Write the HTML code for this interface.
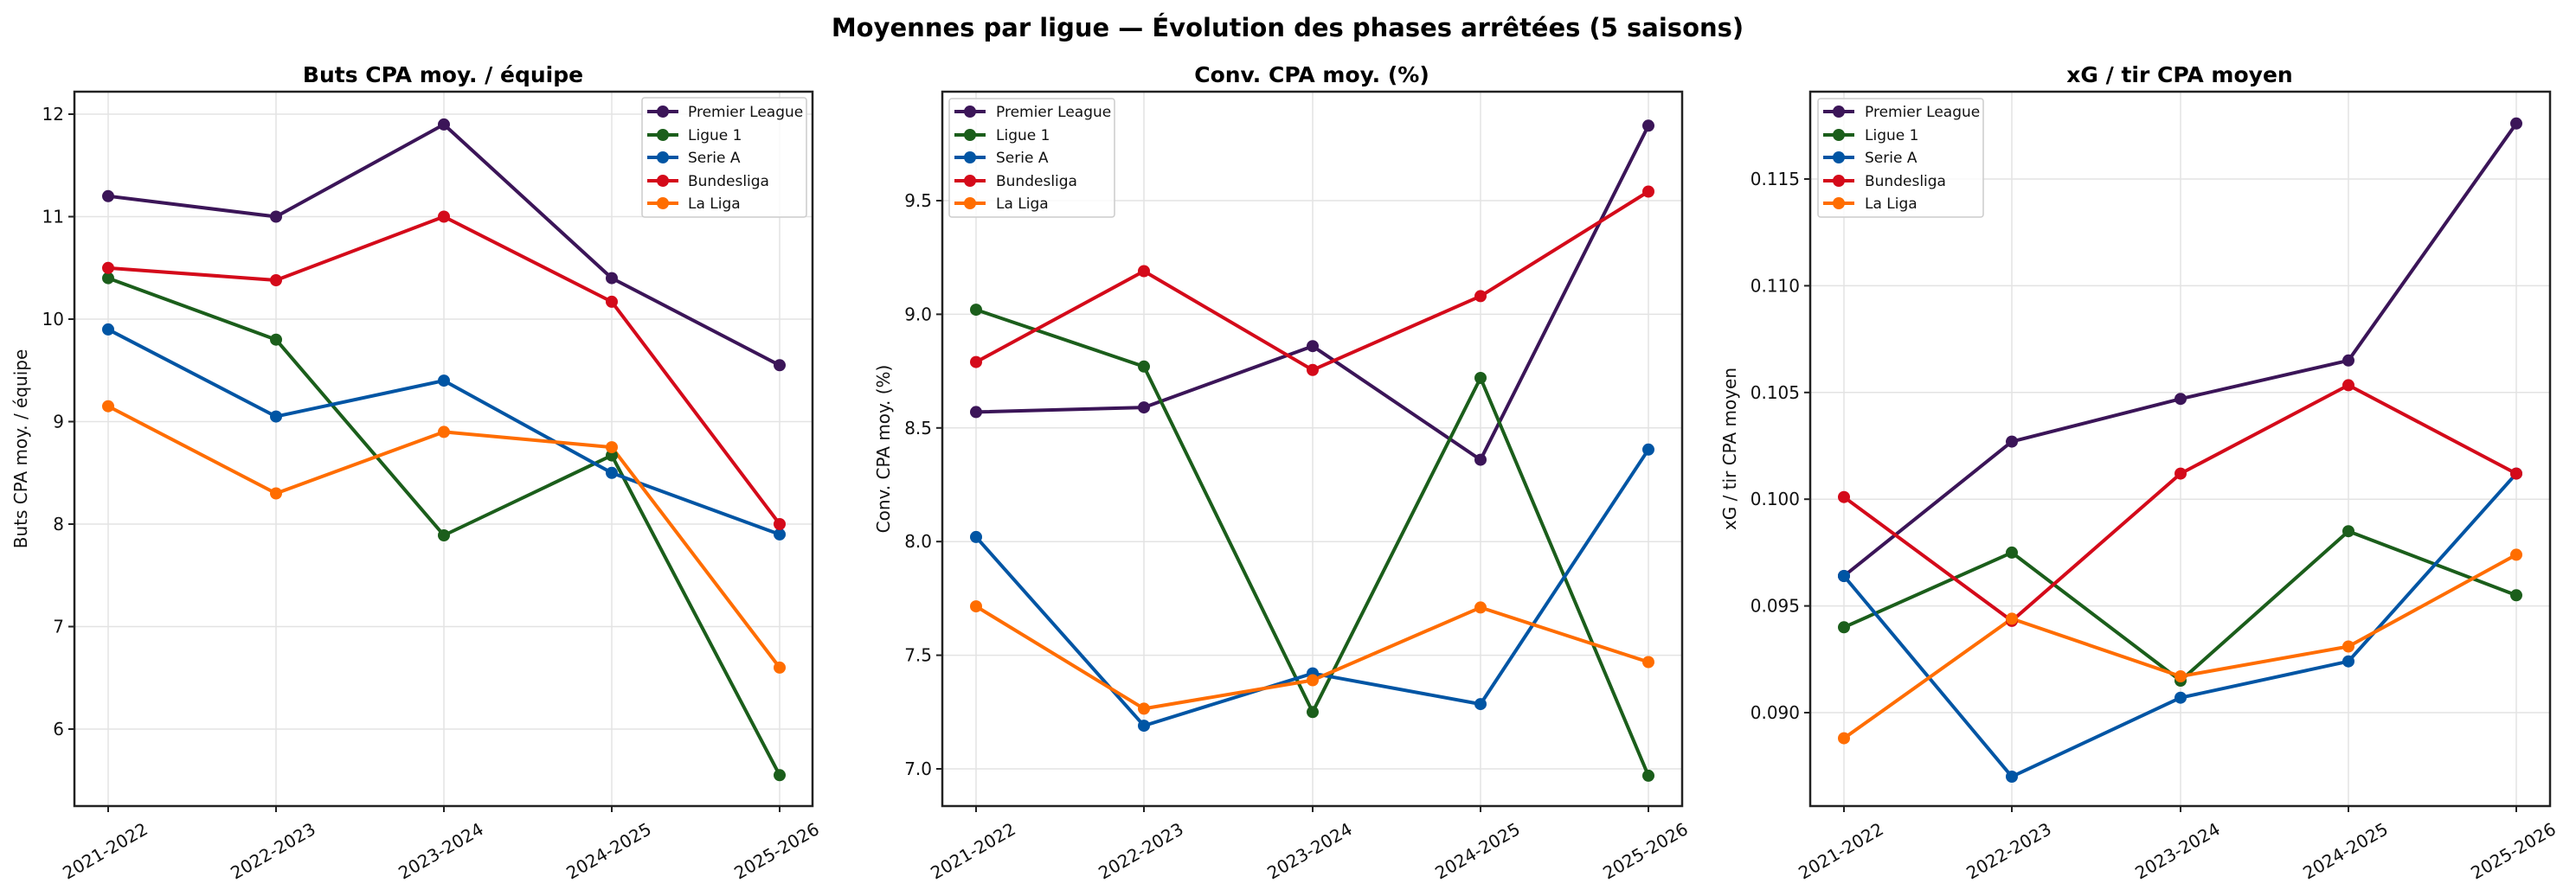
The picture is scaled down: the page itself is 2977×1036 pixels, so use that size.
<!DOCTYPE html>
<html><head><meta charset="utf-8"><style>
html,body{margin:0;padding:0;background:#fff}
svg{display:block;font-family:"DejaVu Sans","Liberation Sans",sans-serif}
.g{stroke:#e3e3e3;stroke-width:1.5}
.ax{fill:none;stroke:#222;stroke-width:2.5}
.tk{stroke:#222;stroke-width:2}
.t{font-size:20px;fill:#111}
.lg{font-size:17px;fill:#111}
.ttl{font-size:25px;font-weight:bold;fill:#000}
.pl{fill:none;stroke-width:4;stroke-linejoin:round}
</style></head><body>
<svg width="2977" height="1036" viewBox="0 0 2977 1036">
<rect width="2977" height="1036" fill="#fff"/>
<text x="1488" y="42" text-anchor="middle" style="font-size:29px;font-weight:bold">Moyennes par ligue — Évolution des phases arrêtées (5 saisons)</text>

<!-- Panel 1 -->
<g>
<text class="ttl" x="512" y="95" text-anchor="middle">Buts CPA moy. / équipe</text>
<g class="g">
<line x1="125" y1="106" x2="125" y2="932"/><line x1="319" y1="106" x2="319" y2="932"/><line x1="513" y1="106" x2="513" y2="932"/><line x1="707" y1="106" x2="707" y2="932"/><line x1="901" y1="106" x2="901" y2="932"/>
<line x1="86" y1="132" x2="939" y2="132"/><line x1="86" y1="250.5" x2="939" y2="250.5"/><line x1="86" y1="369" x2="939" y2="369"/><line x1="86" y1="487.5" x2="939" y2="487.5"/><line x1="86" y1="606" x2="939" y2="606"/><line x1="86" y1="724.5" x2="939" y2="724.5"/><line x1="86" y1="843" x2="939" y2="843"/>
</g>
<g class="t" text-anchor="end">
<text x="74" y="139">12</text><text x="74" y="257.5">11</text><text x="74" y="376">10</text><text x="74" y="494.5">9</text><text x="74" y="613">8</text><text x="74" y="731.5">7</text><text x="74" y="850">6</text>
</g>
<g class="tk"><line x1="79" y1="132" x2="86" y2="132"/><line x1="79" y1="250.5" x2="86" y2="250.5"/><line x1="79" y1="369" x2="86" y2="369"/><line x1="79" y1="487.5" x2="86" y2="487.5"/><line x1="79" y1="606" x2="86" y2="606"/><line x1="79" y1="724.5" x2="86" y2="724.5"/><line x1="79" y1="843" x2="86" y2="843"/>
<line x1="125" y1="932" x2="125" y2="939"/><line x1="319" y1="932" x2="319" y2="939"/><line x1="513" y1="932" x2="513" y2="939"/><line x1="707" y1="932" x2="707" y2="939"/><line x1="901" y1="932" x2="901" y2="939"/></g>
<g class="t" text-anchor="middle">
<text transform="translate(125,990) rotate(-30)">2021-2022</text><text transform="translate(319,990) rotate(-30)">2022-2023</text><text transform="translate(513,990) rotate(-30)">2023-2024</text><text transform="translate(707,990) rotate(-30)">2024-2025</text><text transform="translate(901,990) rotate(-30)">2025-2026</text>
</g>
<text class="t" transform="translate(31,519) rotate(-90)" text-anchor="middle">Buts CPA moy. / équipe</text>
<polyline class="pl" stroke="#3b1558" points="125,226.8 319,250.5 513,143.9 707,321.6 901,422.3"/>
<polyline class="pl" stroke="#1b5e1b" points="125,321.6 319,392.7 513,619 707,526.6 901,896.3"/>
<polyline class="pl" stroke="#0055a4" points="125,380.9 319,481.6 513,440.1 707,546.8 901,617.9"/>
<polyline class="pl" stroke="#d40a1a" points="125,309.8 319,324 513,250.5 707,348.9 901,606"/>
<polyline class="pl" stroke="#ff6d00" points="125,469.7 319,570.5 513,499.4 707,517.1 901,771.9"/>
<g fill="#3b1558"><circle cx="125" cy="226.8" r="7"/><circle cx="319" cy="250.5" r="7"/><circle cx="513" cy="143.9" r="7"/><circle cx="707" cy="321.6" r="7"/><circle cx="901" cy="422.3" r="7"/></g>
<g fill="#1b5e1b"><circle cx="125" cy="321.6" r="7"/><circle cx="319" cy="392.7" r="7"/><circle cx="513" cy="619" r="7"/><circle cx="707" cy="526.6" r="7"/><circle cx="901" cy="896.3" r="7"/></g>
<g fill="#0055a4"><circle cx="125" cy="380.9" r="7"/><circle cx="319" cy="481.6" r="7"/><circle cx="513" cy="440.1" r="7"/><circle cx="707" cy="546.8" r="7"/><circle cx="901" cy="617.9" r="7"/></g>
<g fill="#d40a1a"><circle cx="125" cy="309.8" r="7"/><circle cx="319" cy="324" r="7"/><circle cx="513" cy="250.5" r="7"/><circle cx="707" cy="348.9" r="7"/><circle cx="901" cy="606" r="7"/></g>
<g fill="#ff6d00"><circle cx="125" cy="469.7" r="7"/><circle cx="319" cy="570.5" r="7"/><circle cx="513" cy="499.4" r="7"/><circle cx="707" cy="517.1" r="7"/><circle cx="901" cy="771.9" r="7"/></g>
<rect class="ax" x="86" y="106" width="853" height="826"/>
<g transform="translate(742,113)">
<rect x="0" y="0" width="190" height="138" rx="3" fill="#fff" fill-opacity="0.8" stroke="#ccc" stroke-width="1.5"/>
<g stroke-width="4"><line x1="6" y1="16" x2="42" y2="16" stroke="#3b1558"/><line x1="6" y1="43" x2="42" y2="43" stroke="#1b5e1b"/><line x1="6" y1="69" x2="42" y2="69" stroke="#0055a4"/><line x1="6" y1="96" x2="42" y2="96" stroke="#d40a1a"/><line x1="6" y1="122" x2="42" y2="122" stroke="#ff6d00"/></g>
<circle cx="24" cy="16" r="7" fill="#3b1558"/><circle cx="24" cy="43" r="7" fill="#1b5e1b"/><circle cx="24" cy="69" r="7" fill="#0055a4"/><circle cx="24" cy="96" r="7" fill="#d40a1a"/><circle cx="24" cy="122" r="7" fill="#ff6d00"/>
<g class="lg"><text x="53" y="22">Premier League</text><text x="53" y="49">Ligue 1</text><text x="53" y="75">Serie A</text><text x="53" y="102">Bundesliga</text><text x="53" y="128">La Liga</text></g>
</g>
</g>

<!-- Panel 2 -->
<g>
<text class="ttl" x="1516" y="95" text-anchor="middle">Conv. CPA moy. (%)</text>
<g class="g">
<line x1="1128" y1="106" x2="1128" y2="932"/><line x1="1322" y1="106" x2="1322" y2="932"/><line x1="1517" y1="106" x2="1517" y2="932"/><line x1="1711" y1="106" x2="1711" y2="932"/><line x1="1905" y1="106" x2="1905" y2="932"/>
<line x1="1089" y1="232" x2="1944" y2="232"/><line x1="1089" y1="363.4" x2="1944" y2="363.4"/><line x1="1089" y1="494.8" x2="1944" y2="494.8"/><line x1="1089" y1="626.2" x2="1944" y2="626.2"/><line x1="1089" y1="757.6" x2="1944" y2="757.6"/><line x1="1089" y1="889" x2="1944" y2="889"/>
</g>
<g class="t" text-anchor="end">
<text x="1077" y="239">9.5</text><text x="1077" y="370.4">9.0</text><text x="1077" y="501.8">8.5</text><text x="1077" y="633.2">8.0</text><text x="1077" y="764.6">7.5</text><text x="1077" y="896">7.0</text>
</g>
<g class="tk"><line x1="1082" y1="232" x2="1089" y2="232"/><line x1="1082" y1="363.4" x2="1089" y2="363.4"/><line x1="1082" y1="494.8" x2="1089" y2="494.8"/><line x1="1082" y1="626.2" x2="1089" y2="626.2"/><line x1="1082" y1="757.6" x2="1089" y2="757.6"/><line x1="1082" y1="889" x2="1089" y2="889"/>
<line x1="1128" y1="932" x2="1128" y2="939"/><line x1="1322" y1="932" x2="1322" y2="939"/><line x1="1517" y1="932" x2="1517" y2="939"/><line x1="1711" y1="932" x2="1711" y2="939"/><line x1="1905" y1="932" x2="1905" y2="939"/></g>
<g class="t" text-anchor="middle">
<text transform="translate(1128,990) rotate(-30)">2021-2022</text><text transform="translate(1322,990) rotate(-30)">2022-2023</text><text transform="translate(1517,990) rotate(-30)">2023-2024</text><text transform="translate(1711,990) rotate(-30)">2024-2025</text><text transform="translate(1905,990) rotate(-30)">2025-2026</text>
</g>
<text class="t" transform="translate(1028,519) rotate(-90)" text-anchor="middle">Conv. CPA moy. (%)</text>
<polyline class="pl" stroke="#3b1558" points="1128,476.4 1322,471.1 1517,400.2 1711,531.6 1905,145.3"/>
<polyline class="pl" stroke="#1b5e1b" points="1128,358.1 1322,423.8 1517,823.3 1711,437 1905,896.9"/>
<polyline class="pl" stroke="#0055a4" points="1128,620.9 1322,839.1 1517,778.6 1711,814.1 1905,519.8"/>
<polyline class="pl" stroke="#d40a1a" points="1128,418.6 1322,313.5 1517,427.8 1711,342.4 1905,221.5"/>
<polyline class="pl" stroke="#ff6d00" points="1128,701.1 1322,819.4 1517,786.5 1711,702.4 1905,765.5"/>
<g fill="#3b1558"><circle cx="1128" cy="476.4" r="7"/><circle cx="1322" cy="471.1" r="7"/><circle cx="1517" cy="400.2" r="7"/><circle cx="1711" cy="531.6" r="7"/><circle cx="1905" cy="145.3" r="7"/></g>
<g fill="#1b5e1b"><circle cx="1128" cy="358.1" r="7"/><circle cx="1322" cy="423.8" r="7"/><circle cx="1517" cy="823.3" r="7"/><circle cx="1711" cy="437" r="7"/><circle cx="1905" cy="896.9" r="7"/></g>
<g fill="#0055a4"><circle cx="1128" cy="620.9" r="7"/><circle cx="1322" cy="839.1" r="7"/><circle cx="1517" cy="778.6" r="7"/><circle cx="1711" cy="814.1" r="7"/><circle cx="1905" cy="519.8" r="7"/></g>
<g fill="#d40a1a"><circle cx="1128" cy="418.6" r="7"/><circle cx="1322" cy="313.5" r="7"/><circle cx="1517" cy="427.8" r="7"/><circle cx="1711" cy="342.4" r="7"/><circle cx="1905" cy="221.5" r="7"/></g>
<g fill="#ff6d00"><circle cx="1128" cy="701.1" r="7"/><circle cx="1322" cy="819.4" r="7"/><circle cx="1517" cy="786.5" r="7"/><circle cx="1711" cy="702.4" r="7"/><circle cx="1905" cy="765.5" r="7"/></g>
<rect class="ax" x="1089" y="106" width="855" height="826"/>
<g transform="translate(1097,114)">
<rect x="0" y="0" width="191" height="137" rx="3" fill="#fff" fill-opacity="0.8" stroke="#ccc" stroke-width="1.5"/>
<g stroke-width="4"><line x1="6" y1="15" x2="42" y2="15" stroke="#3b1558"/><line x1="6" y1="42" x2="42" y2="42" stroke="#1b5e1b"/><line x1="6" y1="68" x2="42" y2="68" stroke="#0055a4"/><line x1="6" y1="95" x2="42" y2="95" stroke="#d40a1a"/><line x1="6" y1="121" x2="42" y2="121" stroke="#ff6d00"/></g>
<circle cx="24" cy="15" r="7" fill="#3b1558"/><circle cx="24" cy="42" r="7" fill="#1b5e1b"/><circle cx="24" cy="68" r="7" fill="#0055a4"/><circle cx="24" cy="95" r="7" fill="#d40a1a"/><circle cx="24" cy="121" r="7" fill="#ff6d00"/>
<g class="lg"><text x="54" y="21">Premier League</text><text x="54" y="48">Ligue 1</text><text x="54" y="74">Serie A</text><text x="54" y="101">Bundesliga</text><text x="54" y="127">La Liga</text></g>
</g>
</g>

<!-- Panel 3 -->
<g>
<text class="ttl" x="2519" y="95" text-anchor="middle">xG / tir CPA moyen</text>
<g class="g">
<line x1="2131" y1="106" x2="2131" y2="932"/><line x1="2325" y1="106" x2="2325" y2="932"/><line x1="2520" y1="106" x2="2520" y2="932"/><line x1="2714" y1="106" x2="2714" y2="932"/><line x1="2908" y1="106" x2="2908" y2="932"/>
<line x1="2092" y1="207" x2="2947" y2="207"/><line x1="2092" y1="330.4" x2="2947" y2="330.4"/><line x1="2092" y1="453.8" x2="2947" y2="453.8"/><line x1="2092" y1="577.2" x2="2947" y2="577.2"/><line x1="2092" y1="700.6" x2="2947" y2="700.6"/><line x1="2092" y1="824" x2="2947" y2="824"/>
</g>
<g class="t" text-anchor="end">
<text x="2080" y="214">0.115</text><text x="2080" y="337.4">0.110</text><text x="2080" y="460.8">0.105</text><text x="2080" y="584.2">0.100</text><text x="2080" y="707.6">0.095</text><text x="2080" y="831">0.090</text>
</g>
<g class="tk"><line x1="2085" y1="207" x2="2092" y2="207"/><line x1="2085" y1="330.4" x2="2092" y2="330.4"/><line x1="2085" y1="453.8" x2="2092" y2="453.8"/><line x1="2085" y1="577.2" x2="2092" y2="577.2"/><line x1="2085" y1="700.6" x2="2092" y2="700.6"/><line x1="2085" y1="824" x2="2092" y2="824"/>
<line x1="2131" y1="932" x2="2131" y2="939"/><line x1="2325" y1="932" x2="2325" y2="939"/><line x1="2520" y1="932" x2="2520" y2="939"/><line x1="2714" y1="932" x2="2714" y2="939"/><line x1="2908" y1="932" x2="2908" y2="939"/></g>
<g class="t" text-anchor="middle">
<text transform="translate(2131,990) rotate(-30)">2021-2022</text><text transform="translate(2325,990) rotate(-30)">2022-2023</text><text transform="translate(2520,990) rotate(-30)">2023-2024</text><text transform="translate(2714,990) rotate(-30)">2024-2025</text><text transform="translate(2908,990) rotate(-30)">2025-2026</text>
</g>
<text class="t" transform="translate(2006,519) rotate(-90)" text-anchor="middle">xG / tir CPA moyen</text>
<polyline class="pl" stroke="#3b1558" points="2131,666 2325,510.6 2520,461.2 2714,416.8 2908,142.8"/>
<polyline class="pl" stroke="#1b5e1b" points="2131,725.3 2325,638.9 2520,787 2714,614.2 2908,688.3"/>
<polyline class="pl" stroke="#0055a4" points="2131,666 2325,898 2520,806.7 2714,764.7 2908,547.6"/>
<polyline class="pl" stroke="#d40a1a" points="2131,574.7 2325,717.9 2520,547.6 2714,445.4 2908,547.6"/>
<polyline class="pl" stroke="#ff6d00" points="2131,853.6 2325,715.4 2520,782 2714,747.5 2908,641.4"/>
<g fill="#3b1558"><circle cx="2131" cy="666" r="7"/><circle cx="2325" cy="510.6" r="7"/><circle cx="2520" cy="461.2" r="7"/><circle cx="2714" cy="416.8" r="7"/><circle cx="2908" cy="142.8" r="7"/></g>
<g fill="#1b5e1b"><circle cx="2131" cy="725.3" r="7"/><circle cx="2325" cy="638.9" r="7"/><circle cx="2520" cy="787" r="7"/><circle cx="2714" cy="614.2" r="7"/><circle cx="2908" cy="688.3" r="7"/></g>
<g fill="#d40a1a"><circle cx="2131" cy="574.7" r="7"/><circle cx="2325" cy="717.9" r="7"/><circle cx="2520" cy="547.6" r="7"/><circle cx="2714" cy="445.4" r="7"/></g>
<g fill="#0055a4"><circle cx="2131" cy="666" r="7"/><circle cx="2325" cy="898" r="7"/><circle cx="2520" cy="806.7" r="7"/><circle cx="2714" cy="764.7" r="7"/><circle cx="2908" cy="547.6" r="7"/></g>
<circle cx="2908" cy="547.6" r="7" fill="#d40a1a"/>
<g fill="#ff6d00"><circle cx="2131" cy="853.6" r="7"/><circle cx="2325" cy="715.4" r="7"/><circle cx="2520" cy="782" r="7"/><circle cx="2714" cy="747.5" r="7"/><circle cx="2908" cy="641.4" r="7"/></g>
<rect class="ax" x="2092" y="106" width="855" height="826"/>
<g transform="translate(2101,114)">
<rect x="0" y="0" width="191" height="137" rx="3" fill="#fff" fill-opacity="0.8" stroke="#ccc" stroke-width="1.5"/>
<g stroke-width="4"><line x1="6" y1="15" x2="42" y2="15" stroke="#3b1558"/><line x1="6" y1="42" x2="42" y2="42" stroke="#1b5e1b"/><line x1="6" y1="68" x2="42" y2="68" stroke="#0055a4"/><line x1="6" y1="95" x2="42" y2="95" stroke="#d40a1a"/><line x1="6" y1="121" x2="42" y2="121" stroke="#ff6d00"/></g>
<circle cx="24" cy="15" r="7" fill="#3b1558"/><circle cx="24" cy="42" r="7" fill="#1b5e1b"/><circle cx="24" cy="68" r="7" fill="#0055a4"/><circle cx="24" cy="95" r="7" fill="#d40a1a"/><circle cx="24" cy="121" r="7" fill="#ff6d00"/>
<g class="lg"><text x="54" y="21">Premier League</text><text x="54" y="48">Ligue 1</text><text x="54" y="74">Serie A</text><text x="54" y="101">Bundesliga</text><text x="54" y="127">La Liga</text></g>
</g>
</g>
</svg>
</body></html>
